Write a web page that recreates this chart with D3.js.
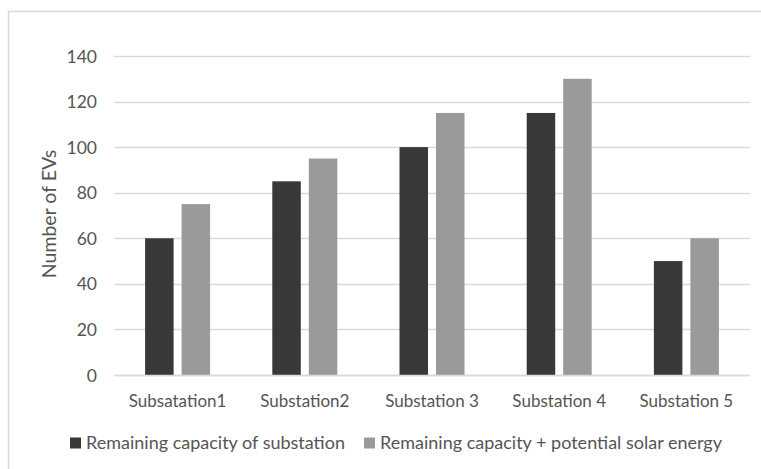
<!DOCTYPE html>
<html>
<head>
<meta charset="utf-8">
<script src="https://cdn.jsdelivr.net/npm/d3@7"></script>
<style>
  html, body { margin: 0; padding: 0; background: #fff; }
  svg { display: block; }
  text { font-family: Lato, "Open Sans", sans-serif; fill: #555555; }
</style>
</head>
<body>
<svg id="chart" width="761" height="469"></svg>
<script>
// Categories and series
const categories = ["Subsatation1", "Substation2", "Substation 3", "Substation 4", "Substation 5"];
const remainingCapacity = [60, 85, 100, 115, 50];
const withSolar = [75, 95, 115, 130, 60];
const seriesNames = ["Remaining capacity of substation", "Remaining capacity + potential solar energy"];
const yTicks = [0, 20, 40, 60, 80, 100, 120, 140];

const svg = d3.select("#chart");
const W = 761, H = 469;
const plot = { left: 114, right: 750, top: 56, bottom: 375 };

// Outer chart frame (left and top edges visible)
svg.append("rect")
  .attr("x", 8.5).attr("y", 11.5)
  .attr("width", W).attr("height", H)
  .attr("fill", "none").attr("stroke", "#d9d9d9").attr("stroke-width", 1.5);

const x = d3.scaleBand().domain(categories).range([plot.left, plot.right]).paddingInner(0).paddingOuter(0);
const y = d3.scaleLinear().domain([0, 140]).range([plot.bottom, plot.top]);

// Gridlines
svg.append("g")
  .selectAll("line").data(yTicks).join("line")
  .attr("x1", plot.left).attr("x2", plot.right)
  .attr("y1", d => Math.round(y(d)) + 0.5).attr("y2", d => Math.round(y(d)) + 0.5)
  .attr("stroke", "#d9d9d9").attr("stroke-width", 1.5);

// Y axis labels
const yAxis = d3.axisLeft(y).tickValues(yTicks).tickSize(0).tickPadding(0);
const gy = svg.append("g").attr("transform", `translate(97,0)`).call(yAxis);
gy.select(".domain").remove();
gy.selectAll("text").style("font-size", "17.5px").attr("fill", "#555555").attr("dy", "0.35em");

// Y axis title
svg.append("text")
  .attr("transform", `translate(49,214) rotate(-90)`)
  .attr("text-anchor", "middle").attr("dy", "0.35em")
  .style("font-size", "19.5px")
  .text("Number of EVs");

// Bars
const barW = 28.5, gap = 8;
const inner = d3.scaleBand().domain([0, 1]).range([0, barW * 2 + gap]).paddingInner(gap / (barW + gap));
const colors = ["#383838", "#9a9a9a"];
const series = [remainingCapacity, withSolar];

series.forEach((vals, si) => {
  svg.append("g").selectAll("rect").data(categories).join("rect")
    .attr("x", (c) => x(c) + x.bandwidth() / 2 - (barW * 2 + gap) / 2 + inner(si))
    .attr("y", (c, i) => y(vals[i]))
    .attr("width", inner.bandwidth())
    .attr("height", (c, i) => y(0) - y(vals[i]))
    .attr("fill", colors[si]);
});

// Baseline redrawn above bars
svg.append("line")
  .attr("x1", plot.left).attr("x2", plot.right)
  .attr("y1", Math.round(y(0)) + 0.5).attr("y2", Math.round(y(0)) + 0.5)
  .attr("stroke", "#d9d9d9").attr("stroke-width", 1.5);

// Category labels
const xAxis = d3.axisBottom(x).tickSize(0).tickPadding(0);
const gx = svg.append("g").attr("transform", `translate(0,${plot.bottom + 26})`).call(xAxis);
gx.select(".domain").remove();
gx.selectAll("text").style("font-size", "17px").attr("fill", "#555555").attr("dy", "0.35em");

// Legend
const legend = [
  { x: 70, name: seriesNames[0], color: colors[0] },
  { x: 364, name: seriesNames[1], color: colors[1] }
];
const lg = svg.append("g").selectAll("g").data(legend).join("g")
  .attr("transform", d => `translate(${d.x},443)`);
lg.append("rect").attr("x", 0).attr("y", -5.5).attr("width", 11).attr("height", 11).attr("fill", d => d.color);
lg.append("text").attr("x", 16).attr("dy", "0.35em").style("font-size", "18px").text(d => d.name);
</script>
</body>
</html>
